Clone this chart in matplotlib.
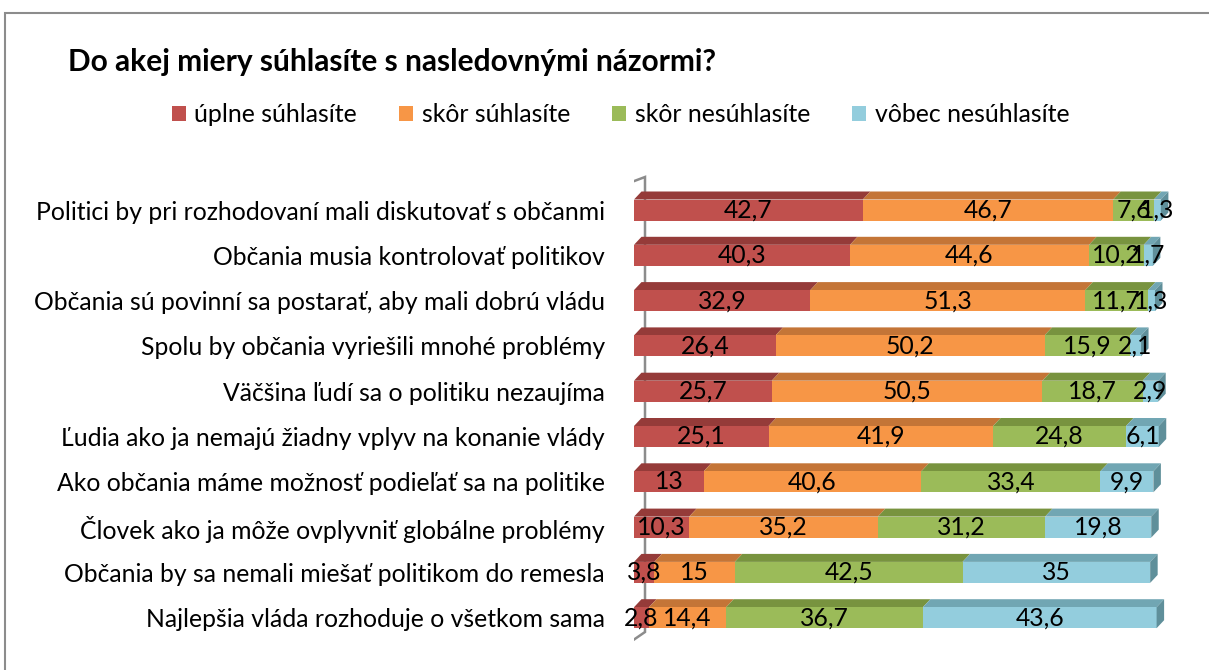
import matplotlib
matplotlib.use("Agg")
import matplotlib.pyplot as plt
from matplotlib.patches import Polygon, Rectangle, Patch
import numpy as np

plt.rcParams['font.family'] = ['Lato', 'DejaVu Sans']

title = "Do akej miery súhlasíte s nasledovnými názormi?"

categories = [
    "Politici by pri rozhodovaní mali diskutovať s občanmi",
    "Občania musia kontrolovať politikov",
    "Občania sú povinní sa postarať, aby mali dobrú vládu",
    "Spolu by občania vyriešili mnohé problémy",
    "Väčšina ľudí sa o politiku nezaujíma",
    "Ľudia ako ja nemajú žiadny vplyv na konanie vlády",
    "Ako občania máme možnosť podieľať sa na politike",
    "Človek ako ja môže ovplyvniť globálne problémy",
    "Občania by sa nemali miešať politikom do remesla",
    "Najlepšia vláda rozhoduje o všetkom sama",
]

series_names = ["úplne súhlasíte", "skôr súhlasíte", "skôr nesúhlasíte", "vôbec nesúhlasíte"]

uplne_suhlasite = [42.7, 40.3, 32.9, 26.4, 25.7, 25.1, 13, 10.3, 3.8, 2.8]
skor_suhlasite = [46.7, 44.6, 51.3, 50.2, 50.5, 41.9, 40.6, 35.2, 15, 14.4]
skor_nesuhlasite = [7.6, 10.2, 11.7, 15.9, 18.7, 24.8, 33.4, 31.2, 42.5, 36.7]
vobec_nesuhlasite = [1.3, 1.7, 1.3, 2.1, 2.9, 6.1, 9.9, 19.8, 35, 43.6]

front_colors = ["#C0504D", "#F79646", "#9BBB59", "#93CDDD"]
top_colors = ["#953B39", "#C47537", "#78933F", "#71A6B3"]
end_color = "#5F8F9A"

W, H = 1209, 670
fig = plt.figure(figsize=(W / 100, H / 100), dpi=100)

# chart frame
fig.patches.append(Rectangle((5 / W, -0.1), 1.2, 1.1 - 13 / H, transform=fig.transFigure,
                             fill=False, edgecolor="#8C8C8C", linewidth=1.5))

# plot area: x=0 at 634 px, 5.36 px per unit; rows 45.3 px apart
x0_px, ppu = 634, 5.36
top_px, row_px = 210, 45.3
ylo, yhi = -0.8, 9.8
bottom_px = top_px + 9 * row_px + 0.8 * row_px
top_lim_px = top_px - 0.8 * row_px
ax = fig.add_axes([x0_px / W, 1 - bottom_px / H, 100 * ppu / W, (bottom_px - top_lim_px) / H])
ax.set_xlim(0, 100)
ax.set_ylim(ylo, yhi)

data = np.array([uplne_suhlasite, skor_suhlasite, skor_nesuhlasite, vobec_nesuhlasite])
n = len(categories)
ypos = np.arange(n)[::-1]  # first category at the top

bar_h = 21 / row_px
dx = 7.5 / ppu
dy = 8 / row_px

# depth wall on the left
wall_x = [-5 / ppu, 11 / ppu]
base = top_px + 9 * row_px
wall = Polygon([[wall_x[0], (base - 643) / row_px],
                [wall_x[0], (base - 183) / row_px],
                [wall_x[1], (base - 177) / row_px],
                [wall_x[1], (base - 632) / row_px]],
               closed=True, fill=False, edgecolor="#8C8C8C", linewidth=1.8, zorder=1)
ax.add_patch(wall)

lefts = np.zeros(n)
for s in range(4):
    vals = data[s]
    ax.barh(ypos, vals, left=lefts, height=bar_h, color=front_colors[s],
            edgecolor="none", zorder=3)
    for i in range(n):
        l, v, y = lefts[i], vals[i], ypos[i]
        yt = y + bar_h / 2
        top = Polygon([[l, yt], [l + v, yt], [l + v + dx, yt + dy], [l + dx, yt + dy]],
                      closed=True, facecolor=top_colors[s], edgecolor="none", zorder=2.5)
        ax.add_patch(top)
        if s == 3:
            r = l + v
            yb = y - bar_h / 2
            cap = Polygon([[r, yb], [r + dx, yb + dy], [r + dx, yt + dy], [r, yt]],
                          closed=True, facecolor=end_color, edgecolor="none", zorder=3)
            ax.add_patch(cap)
        ax.text(l + v / 2, y, f"{v:g}".replace(".", ","), ha="center", va="center",
                fontsize=17.8, color="black", zorder=5)
    lefts = lefts + vals

ax.set_yticks(ypos)
ax.set_yticklabels(categories, fontsize=17.8)
ax.tick_params(axis="y", length=0, pad=29 * 0.72)
ax.set_xticks([])
for sp in ax.spines.values():
    sp.set_visible(False)
ax.patch.set_alpha(0)

fig.text(68 / W, 1 - 62 / H, title, fontsize=21.5, fontweight="bold", ha="left", va="center")

handles = [Patch(facecolor=c, edgecolor="none") for c in front_colors]
fig.legend(handles, series_names, loc="center left", bbox_to_anchor=(172 / W, 1 - 115 / H),
           ncol=4, frameon=False, fontsize=17.9, handlelength=0.55, handleheight=0.55,
           handletextpad=0.35, columnspacing=1.7, borderpad=0, borderaxespad=0)

fig.savefig("out.png", dpi=100)
